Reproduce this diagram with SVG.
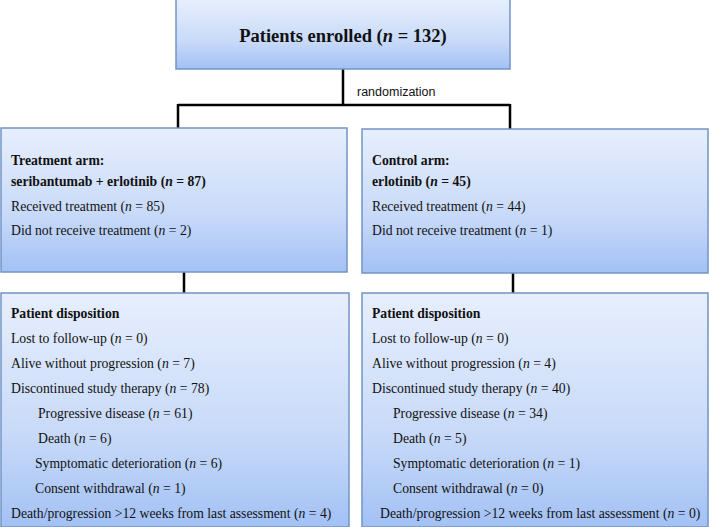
<svg xmlns="http://www.w3.org/2000/svg" width="709" height="527" viewBox="0 0 709 527">
<defs>
<linearGradient id="g" x1="0" y1="0" x2="0" y2="1">
<stop offset="0" stop-color="#e7effd"/>
<stop offset="0.6" stop-color="#c8daf9"/>
<stop offset="1" stop-color="#a3c1f5"/>
</linearGradient>
<style>
.box{fill:url(#g);stroke:#7294c6;stroke-width:1.5}
.conn{stroke:#000;stroke-width:2.5;fill:none}
.t{font-family:"Liberation Serif","Times New Roman",serif;font-size:13.7px;fill:#111}
.b{font-weight:bold}
.sans{font-family:"Liberation Sans",Arial,sans-serif;font-size:12.5px;fill:#111}
</style>
</defs>
<rect width="709" height="527" fill="#fff"/>
<g id="connectors">
<path class="conn" d="M343 69 V105 M178 105 H510 M178 104 V128 M510 104 V129 M184 272 V293 M513 273 V293"/>
<text class="sans" x="357" y="96">randomization</text>
</g>
<g id="enrolled">
<rect class="box" x="176" y="-1" width="334" height="70"/>
<text class="t b" x="343" y="42" text-anchor="middle" style="font-size:18.5px">Patients enrolled (<tspan font-style="italic">n</tspan> = 132)</text>
</g>
<g id="treatment-arm">
<rect class="box" x="1" y="128" width="346" height="144"/>
<text class="t b" x="11" y="165">Treatment arm:</text>
<text class="t b" x="11" y="186">seribantumab + erlotinib (<tspan font-style="italic">n</tspan> = 87)</text>
<text class="t" x="11" y="211">Received treatment (<tspan font-style="italic">n</tspan> = 85)</text>
<text class="t" x="11" y="235">Did not receive treatment (<tspan font-style="italic">n</tspan> = 2)</text>
</g>
<g id="control-arm">
<rect class="box" x="362" y="129" width="346" height="144"/>
<text class="t b" x="372" y="165">Control arm:</text>
<text class="t b" x="372" y="186">erlotinib (<tspan font-style="italic">n</tspan> = 45)</text>
<text class="t" x="372" y="211">Received treatment (<tspan font-style="italic">n</tspan> = 44)</text>
<text class="t" x="372" y="235">Did not receive treatment (<tspan font-style="italic">n</tspan> = 1)</text>
</g>
<g id="treatment-disposition">
<rect class="box" x="1" y="293" width="348" height="234"/>
<text class="t b" x="11" y="318">Patient disposition</text>
<text class="t" x="11" y="343">Lost to follow-up (<tspan font-style="italic">n</tspan> = 0)</text>
<text class="t" x="11" y="368">Alive without progression (<tspan font-style="italic">n</tspan> = 7)</text>
<text class="t" x="11" y="393">Discontinued study therapy (<tspan font-style="italic">n</tspan> = 78)</text>
<text class="t" x="38" y="418">Progressive disease (<tspan font-style="italic">n</tspan> = 61)</text>
<text class="t" x="38" y="443">Death (<tspan font-style="italic">n</tspan> = 6)</text>
<text class="t" x="35" y="468">Symptomatic deterioration (<tspan font-style="italic">n</tspan> = 6)</text>
<text class="t" x="35" y="493">Consent withdrawal (<tspan font-style="italic">n</tspan> = 1)</text>
<text class="t" x="11" y="518">Death/progression &gt;12 weeks from last assessment (<tspan font-style="italic">n</tspan> = 4)</text>
</g>
<g id="control-disposition">
<rect class="box" x="362" y="293" width="346" height="234"/>
<text class="t b" x="372" y="318">Patient disposition</text>
<text class="t" x="372" y="343">Lost to follow-up (<tspan font-style="italic">n</tspan> = 0)</text>
<text class="t" x="372" y="368">Alive without progression (<tspan font-style="italic">n</tspan> = 4)</text>
<text class="t" x="372" y="393">Discontinued study therapy (<tspan font-style="italic">n</tspan> = 40)</text>
<text class="t" x="393" y="418">Progressive disease (<tspan font-style="italic">n</tspan> = 34)</text>
<text class="t" x="393" y="443">Death (<tspan font-style="italic">n</tspan> = 5)</text>
<text class="t" x="393" y="468">Symptomatic deterioration (<tspan font-style="italic">n</tspan> = 1)</text>
<text class="t" x="393" y="493">Consent withdrawal (<tspan font-style="italic">n</tspan> = 0)</text>
<text class="t" x="380" y="518">Death/progression &gt;12 weeks from last assessment (<tspan font-style="italic">n</tspan> = 0)</text>
</g>
</svg>
